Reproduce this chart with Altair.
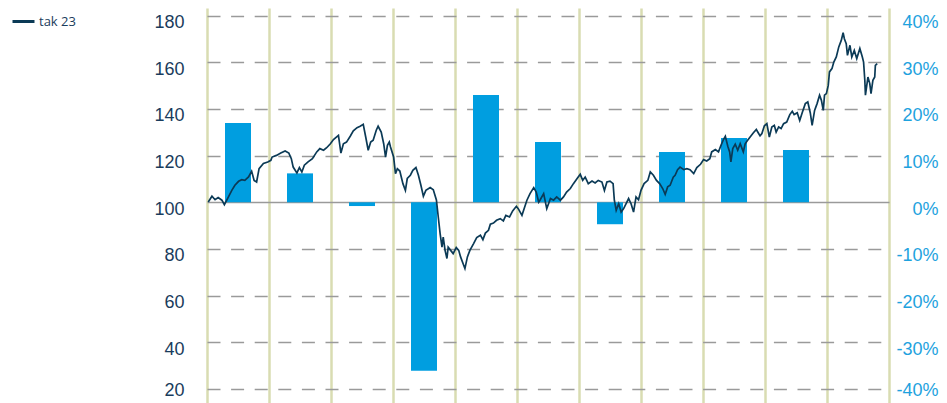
import altair as alt
import pandas as pd

SERIES_NAME = "tak 23"

LINE_YEARS = [
    2005.02, 2005.08, 2005.13, 2005.18, 2005.24, 2005.28, 2005.34, 2005.40, 2005.45, 2005.51,
    2005.56, 2005.61, 2005.67, 2005.72, 2005.76, 2005.80, 2005.84, 2005.91, 2005.98, 2006.03,
    2006.05, 2006.12, 2006.19, 2006.26, 2006.32, 2006.36, 2006.39, 2006.45, 2006.49, 2006.53,
    2006.57, 2006.63, 2006.70, 2006.77, 2006.82, 2006.88, 2006.93, 2006.99, 2007.04, 2007.12,
    2007.16, 2007.20, 2007.25, 2007.31, 2007.36, 2007.42, 2007.47, 2007.52, 2007.56, 2007.60,
    2007.64, 2007.68, 2007.73, 2007.76, 2007.81, 2007.85, 2007.88, 2007.91, 2007.94, 2007.96,
    2008.01, 2008.04, 2008.07, 2008.11, 2008.16, 2008.20, 2008.23, 2008.28, 2008.32, 2008.37,
    2008.41, 2008.45, 2008.49, 2008.53, 2008.60, 2008.65, 2008.70, 2008.73, 2008.76, 2008.79,
    2008.81, 2008.84, 2008.87, 2008.89, 2008.93, 2008.97, 2009.02, 2009.06, 2009.09, 2009.14,
    2009.16, 2009.20, 2009.24, 2009.30, 2009.35, 2009.41, 2009.45, 2009.49, 2009.54, 2009.57,
    2009.62, 2009.67, 2009.73, 2009.78, 2009.82, 2009.88, 2009.93, 2009.99, 2010.02, 2010.08,
    2010.12, 2010.16, 2010.21, 2010.27, 2010.31, 2010.35, 2010.37, 2010.43, 2010.48, 2010.54,
    2010.59, 2010.64, 2010.70, 2010.75, 2010.80, 2010.86, 2010.91, 2010.97, 2011.02, 2011.06,
    2011.10, 2011.15, 2011.21, 2011.26, 2011.31, 2011.37, 2011.41, 2011.45, 2011.50, 2011.55,
    2011.57, 2011.60, 2011.64, 2011.68, 2011.72, 2011.76, 2011.80, 2011.84, 2011.88, 2011.92,
    2011.96, 2012.00, 2012.05, 2012.11, 2012.15, 2012.20, 2012.25, 2012.30, 2012.35, 2012.39,
    2012.43, 2012.47, 2012.52, 2012.55, 2012.59, 2012.63, 2012.69, 2012.74, 2012.79, 2012.85,
    2012.90, 2012.96, 2013.01, 2013.06, 2013.11, 2013.14, 2013.20, 2013.25, 2013.29, 2013.33,
    2013.36, 2013.40, 2013.43, 2013.45, 2013.48, 2013.52, 2013.56, 2013.60, 2013.65, 2013.68,
    2013.72, 2013.76, 2013.81, 2013.86, 2013.90, 2013.92, 2013.95, 2013.99, 2014.03, 2014.07,
    2014.11, 2014.15, 2014.18, 2014.22, 2014.26, 2014.30, 2014.35, 2014.40, 2014.44, 2014.47,
    2014.52, 2014.56, 2014.60, 2014.65, 2014.69, 2014.73, 2014.76, 2014.80, 2014.84, 2014.88,
    2014.91, 2014.94, 2014.96, 2014.99, 2015.02, 2015.04, 2015.08, 2015.11, 2015.15, 2015.19,
    2015.23, 2015.26, 2015.28, 2015.31, 2015.33, 2015.37, 2015.40, 2015.44, 2015.48, 2015.53,
    2015.57, 2015.59, 2015.61, 2015.62, 2015.66, 2015.69, 2015.71, 2015.74, 2015.77, 2015.78,
    2015.81,
]

LINE_VALUES = [
    100.1, 102.6, 101.1, 102.0, 100.9, 99.0, 102.0, 105.1, 107.3, 109.0,
    109.7, 109.4, 110.9, 113.3, 109.4, 108.7, 114.4, 116.6, 117.3, 118.0,
    119.4, 120.1, 121.1, 122.0, 121.1, 118.7, 115.1, 112.6, 114.9, 113.0,
    115.9, 117.3, 118.7, 121.6, 123.0, 122.3, 123.4, 125.1, 126.9, 128.7,
    121.1, 125.1, 125.8, 128.3, 130.6, 132.0, 132.6, 133.4, 128.0, 122.3,
    125.8, 126.6, 130.9, 132.6, 130.1, 125.1, 119.4, 124.4, 125.8, 123.7,
    119.4, 112.3, 114.4, 113.4, 108.0, 105.1, 110.2, 111.6, 113.7, 114.9,
    111.6, 107.3, 102.6, 105.1, 106.3, 105.4, 101.0, 93.7, 86.6, 80.8,
    85.1, 79.4, 75.9, 80.8, 79.4, 78.0, 80.6, 79.4, 76.6, 73.0,
    71.6, 76.6, 79.4, 82.3, 84.9, 85.9, 84.0, 86.8, 88.0, 90.6,
    91.1, 92.3, 93.0, 92.0, 94.4, 93.7, 96.3, 98.3, 97.3, 94.4,
    97.7, 100.9, 103.7, 106.3, 104.4, 100.1, 100.9, 103.7, 97.3, 101.6,
    100.9, 102.3, 100.9, 102.3, 104.4, 105.9, 108.0, 110.2, 112.0, 109.4,
    110.8, 108.0, 109.1, 108.3, 109.4, 108.7, 105.1, 108.7, 109.1, 108.0,
    100.9, 96.6, 99.4, 95.8, 97.3, 99.4, 101.6, 99.4, 95.8, 102.3,
    101.1, 105.1, 108.0, 109.4, 113.0, 111.6, 109.4, 108.0, 105.9, 103.4,
    106.6, 107.3, 110.8, 111.6, 114.0, 115.1, 114.0, 114.4, 114.0, 112.3,
    114.9, 116.3, 118.3, 117.7, 118.7, 121.6, 122.6, 121.6, 124.4, 126.9,
    128.3, 124.0, 121.6, 117.3, 123.0, 124.9, 122.3, 125.1, 121.6, 125.1,
    126.6, 128.0, 129.7, 131.2, 129.4, 128.5, 129.5, 132.8, 133.7, 128.0,
    132.3, 133.0, 130.1, 132.3, 131.6, 133.7, 134.4, 137.6, 139.0, 137.6,
    138.4, 135.1, 138.4, 142.3, 143.0, 138.4, 133.0, 139.4, 142.3, 145.9,
    143.7, 139.4, 145.9, 146.6, 150.1, 155.9, 157.3, 160.1, 162.3, 166.6,
    169.4, 172.7, 170.1, 168.0, 163.0, 167.3, 162.3, 165.1, 161.6, 165.9,
    162.3, 160.1, 152.3, 145.9, 153.7, 150.9, 146.6, 152.3, 153.7, 158.7,
    159.4,
]

BAR_YEARS = [2005, 2006, 2007, 2008, 2009, 2010, 2011, 2012, 2013, 2014]
BAR_RETURNS = [0.170, 0.062, -0.008, -0.361, 0.230, 0.129, -0.047, 0.108, 0.138, 0.112]

GRID_YEARS = list(range(2005, 2017))
LEFT_TICKS = [20, 40, 60, 80, 100, 120, 140, 160, 180]
RIGHT_TICKS = [-0.4, -0.3, -0.2, -0.1, 0.0, 0.1, 0.2, 0.3, 0.4]

NAVY = "#0B3A56"
LABEL_NAVY = "#1A3C5C"
BLUE = "#009EE0"
LABEL_BLUE = "#1EA2DE"
OLIVE = "#D9DCB2"
GRID_GRAY = "#9A9A9A"

line_df = pd.DataFrame({"t": LINE_YEARS, "v": LINE_VALUES, "s": [SERIES_NAME] * len(LINE_YEARS)})
bar_df = pd.DataFrame({"year": BAR_YEARS, "r": BAR_RETURNS})

x_enc = alt.X(
    "t:Q",
    scale=alt.Scale(domain=[2005, 2016], nice=False, zero=False, padding=0),
    axis=alt.Axis(values=GRID_YEARS, labels=False, ticks=False, domain=False,
                  grid=True, gridColor=OLIVE, gridWidth=2.5, title=None),
)

# plot spans page y 8..403; 100 sits at page y 202.3, 2.3331 px per unit
Y_LEFT = [13.98, 183.28]
Y_RIGHT = [(Y_LEFT[0] - 100) / 200, (Y_LEFT[1] - 100) / 200]

bars = alt.Chart(bar_df).transform_calculate(
    t="datum.year + 0.5"
).mark_bar(size=26, color=BLUE).encode(
    x=x_enc,
    y=alt.Y(
        "r:Q",
        scale=alt.Scale(domain=Y_RIGHT, nice=False, zero=False),
        axis=alt.Axis(orient="right", values=RIGHT_TICKS, grid=False, domain=False,
                      ticks=False, tickSize=0, labelAlign="right", labelPadding=49,
                      labelColor=LABEL_BLUE, labelFontSize=18, labelFont="Liberation Sans",
                      labelOffset={"condition": {"test": "datum.value < -0.35", "value": 2},
                                   "value": 7},
                      labelBaseline="middle",
                      labelExpr="(datum.value < -0.0001 ? '-' : '') + format(abs(datum.value) * 100, '.0f') + '%'",
                      title=None),
    ),
    y2=alt.datum(0),
)

line = alt.Chart(line_df).mark_line(strokeWidth=1.7).encode(
    x=x_enc,
    y=alt.Y(
        "v:Q",
        scale=alt.Scale(domain=Y_LEFT, nice=False, zero=False),
        axis=alt.Axis(orient="left", values=LEFT_TICKS, grid=True, gridColor=GRID_GRAY,
                      gridWidth=1.5,
                      gridDash={"condition": {"test": "datum.value === 100", "value": []},
                                "value": [13, 10.6]},
                      domain=False, ticks=False, tickSize=0, labelPadding=23,
                      labelFontSize=18, labelFont="Liberation Sans", labelColor=LABEL_NAVY,
                      labelOffset={"condition": {"test": "datum.value === 20", "value": 2},
                                   "value": 7},
                      labelBaseline="middle", title=None),
    ),
    color=alt.Color(
        "s:N",
        scale=alt.Scale(range=[NAVY]),
        legend=alt.Legend(title=None, orient="none", legendX=-196, legendY=1,
                          symbolType="stroke", symbolSize=484, symbolStrokeWidth=3,
                          labelFontSize=13, labelFont="Open Sans", labelColor=LABEL_NAVY,
                          labelOffset=3),
    ),
)

chart = alt.layer(bars, line).resolve_scale(y="independent").properties(
    width=682,
    height=395,
    autosize=alt.AutoSizeParams(type="none"),
    padding={"left": 199, "top": 0, "right": 50, "bottom": 0},
    background="white",
).configure_view(stroke=None)

chart.save("out.html", embed_options={"renderer": "svg", "actions": False})
